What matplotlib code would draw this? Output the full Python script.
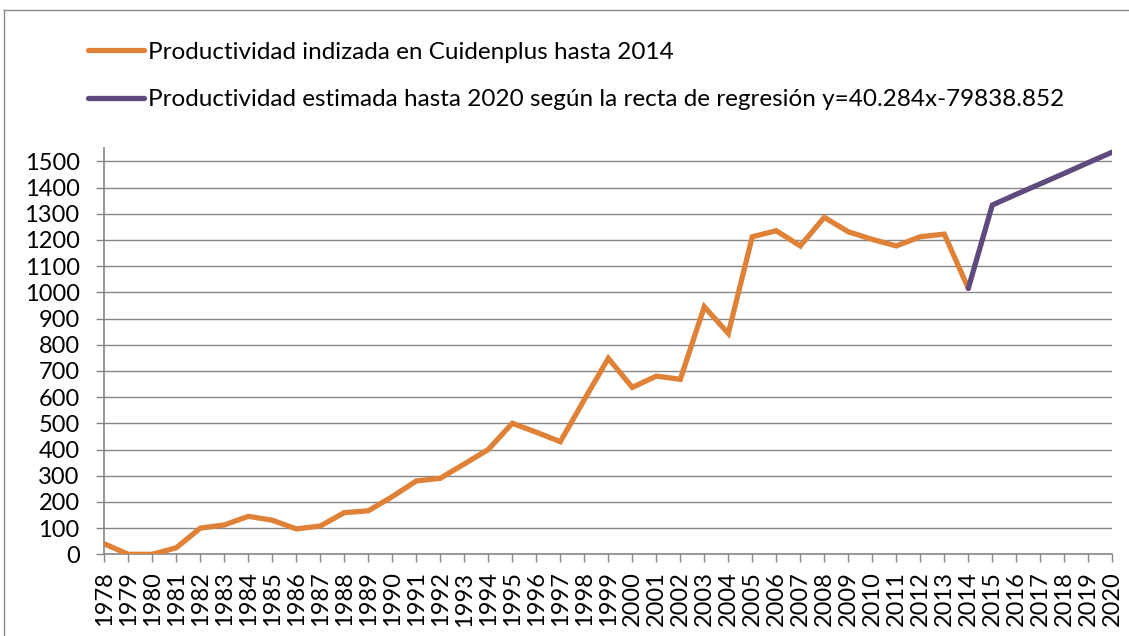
import matplotlib
matplotlib.use("Agg")
import matplotlib.pyplot as plt
from matplotlib.lines import Line2D

years_obs = list(range(1978, 2015))
values_obs = [40, 0, 0, 25, 100, 112, 145, 130, 97, 108, 159, 166, 220, 280, 290,
              345, 400, 500, 466, 430, 590, 748, 637, 680, 668, 945, 843, 1212,
              1235, 1177, 1286, 1231, 1202, 1177, 1212, 1222, 1015]
years_est = list(range(2014, 2021))
values_est = [1015, 1333, 1374, 1414, 1454, 1495, 1535]
label_obs = "Productividad indizada en Cuidenplus hasta 2014"
label_est = "Productividad estimada hasta 2020 según la recta de regresión y=40.284x-79838.852"
yticks = list(range(0, 1600, 100))
xticks = list(range(1978, 2021))

ORANGE = "#DF8136"
PURPLE = "#5E4A7D"
GRID = "#868686"
FONT = ["Lato", "DejaVu Sans"]
FS = 17

plt.rcParams["font.family"] = FONT

W, H = 1129, 636
fig = plt.figure(figsize=(W / 100, H / 100), dpi=100)
ax = fig.add_axes([104.3 / W, 1 - 554.3 / H, (1112.3 - 104.3) / W, (554.3 - 148.2) / H])

l1, = ax.plot(years_obs, values_obs, color=ORANGE, lw=3.8, solid_joinstyle="miter",
              solid_capstyle="round", label=label_obs, zorder=3)
l2, = ax.plot(years_est, values_est, color=PURPLE, lw=3.8, solid_joinstyle="miter",
              solid_capstyle="round", label=label_est, zorder=3)

ax.set_xlim(1978, 2020)
ax.set_ylim(0, 1550)
ax.set_yticks(yticks)
ax.set_yticklabels([str(v) for v in yticks], fontsize=FS)
ax.set_xticks(xticks)
ax.set_xticklabels([str(v) for v in xticks], fontsize=FS, rotation=90)
ax.yaxis.grid(True, color=GRID, lw=1.0)
ax.set_axisbelow(True)
for s in ["top", "right"]:
    ax.spines[s].set_visible(False)
for s in ["left", "bottom"]:
    ax.spines[s].set_color(GRID)
    ax.spines[s].set_linewidth(1.2)
ax.tick_params(axis="both", direction="out", length=5.8, width=1.0, color=GRID)
ax.tick_params(axis="y", pad=12)
ax.tick_params(axis="x", pad=6.5)

fig.legend(handles=[l1, l2], labels=[label_obs, label_est], loc="upper left",
           bbox_to_anchor=(88 / W, 1 - 41.5 / H), frameon=False, fontsize=17.5,
           handlelength=2.3, handletextpad=0.15, labelspacing=1.09, borderaxespad=0,
           borderpad=0)

fig.add_artist(Line2D([3.5 / W, 3.5 / W], [0, 1 - 10 / H], transform=fig.transFigure,
                      color="#8a8a8a", lw=1.0))
fig.add_artist(Line2D([3.5 / W, 1], [1 - 10 / H, 1 - 10 / H], transform=fig.transFigure,
                      color="#8a8a8a", lw=1.0))

fig.savefig("out.png", dpi=100)
